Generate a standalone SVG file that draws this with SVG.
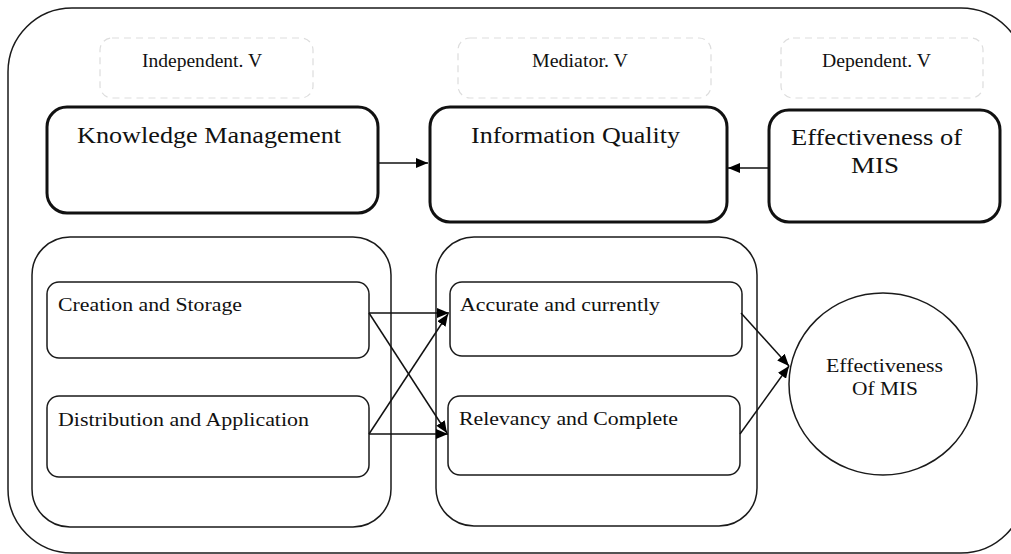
<svg xmlns="http://www.w3.org/2000/svg" width="1011" height="554" viewBox="0 0 1011 554">
  <style>
    .frame { fill: none; stroke: #1a1a1a; stroke-width: 1.5; }
    .tag { fill: none; stroke: #dddddd; stroke-width: 1.2; stroke-dasharray: 7 5; }
    .main { fill: #ffffff; stroke: #111111; stroke-width: 3; }
    .group { fill: none; stroke: #1a1a1a; stroke-width: 1.5; }
    .item { fill: #ffffff; stroke: #1a1a1a; stroke-width: 1.5; }
    .link { fill: none; stroke: #111111; stroke-width: 1.5; marker-end: url(#head); }
    text { font-family: "Liberation Serif", "Times New Roman", serif; fill: #111111; }
    .t-tag { font-size: 18px; }
    .t-main { font-size: 23px; }
    .t-item { font-size: 19px; }
  </style>
  <defs>
    <marker id="head" viewBox="0 0 12 10" refX="12" refY="5" markerWidth="12" markerHeight="10" markerUnits="userSpaceOnUse" orient="auto">
      <path d="M0,0 L12,5 L0,10 Z" fill="#000000"/>
    </marker>
  </defs>

  <rect width="1011" height="554" fill="#ffffff"/>

  <!-- outer frame -->
  <rect class="frame" x="8" y="8" width="1017" height="545" rx="64" ry="64"/>

  <!-- column headings -->
  <g id="label-independent">
    <rect class="tag" x="100" y="38" width="213" height="60" rx="12"/>
    <text class="t-tag" x="142" y="67" textLength="120" lengthAdjust="spacingAndGlyphs">Independent. V</text>
  </g>
  <g id="label-mediator">
    <rect class="tag" x="458" y="38" width="253" height="60" rx="12"/>
    <text class="t-tag" x="532" y="67" textLength="96" lengthAdjust="spacingAndGlyphs">Mediator. V</text>
  </g>
  <g id="label-dependent">
    <rect class="tag" x="781" y="38" width="202" height="60" rx="12"/>
    <text class="t-tag" x="822" y="67" textLength="109" lengthAdjust="spacingAndGlyphs">Dependent. V</text>
  </g>

  <!-- main constructs -->
  <g id="knowledge-management">
    <rect class="main" x="47" y="107" width="331" height="106" rx="20"/>
    <text class="t-main" x="77" y="143" textLength="264" lengthAdjust="spacingAndGlyphs">Knowledge Management</text>
  </g>
  <g id="information-quality">
    <rect class="main" x="430" y="107" width="297" height="115" rx="20"/>
    <text class="t-main" x="471" y="143" textLength="209" lengthAdjust="spacingAndGlyphs">Information Quality</text>
  </g>
  <g id="effectiveness-mis">
    <rect class="main" x="769" y="110" width="231" height="112" rx="20"/>
    <text class="t-main" x="791" y="145" textLength="171" lengthAdjust="spacingAndGlyphs">Effectiveness of</text>
    <text class="t-main" x="851" y="173" textLength="48" lengthAdjust="spacingAndGlyphs">MIS</text>
  </g>

  <!-- knowledge management dimensions -->
  <g id="km-group">
    <rect class="group" x="32" y="237" width="359" height="290" rx="38"/>
  </g>
  <g id="creation-storage">
    <rect class="item" x="47" y="282" width="322" height="76" rx="12"/>
    <text class="t-item" x="58" y="311" textLength="184" lengthAdjust="spacingAndGlyphs">Creation and Storage</text>
  </g>
  <g id="distribution-application">
    <rect class="item" x="47" y="396" width="322" height="81" rx="12"/>
    <text class="t-item" x="58" y="426" textLength="251" lengthAdjust="spacingAndGlyphs">Distribution and Application</text>
  </g>

  <!-- information quality dimensions -->
  <g id="iq-group">
    <rect class="group" x="436" y="237" width="321" height="289" rx="38"/>
  </g>
  <g id="accurate-currently">
    <rect class="item" x="450" y="282" width="292" height="74" rx="12"/>
    <text class="t-item" x="460" y="311" textLength="200" lengthAdjust="spacingAndGlyphs">Accurate and currently</text>
  </g>
  <g id="relevancy-complete">
    <rect class="item" x="448" y="396" width="292" height="79" rx="12"/>
    <text class="t-item" x="459" y="425" textLength="219" lengthAdjust="spacingAndGlyphs">Relevancy and Complete</text>
  </g>

  <!-- outcome -->
  <g id="effectiveness-outcome">
    <ellipse class="item" cx="883" cy="384" rx="94" ry="91"/>
    <text class="t-item" x="826" y="372" textLength="117" lengthAdjust="spacingAndGlyphs">Effectiveness</text>
    <text class="t-item" x="852" y="395" textLength="66" lengthAdjust="spacingAndGlyphs">Of MIS</text>
  </g>

  <!-- connectors -->
  <g id="connectors">
    <path class="link" d="M378,163 L428,163"/>
    <path class="link" d="M769,168 L728,168"/>
    <path class="link" d="M369,313 L449,313"/>
    <path class="link" d="M369,313 L447,433"/>
    <path class="link" d="M369,434 L448,434"/>
    <path class="link" d="M369,434 L448,314"/>
    <path class="link" d="M741,313 L789,366"/>
    <path class="link" d="M740,434 L789,366"/>
  </g>
</svg>
